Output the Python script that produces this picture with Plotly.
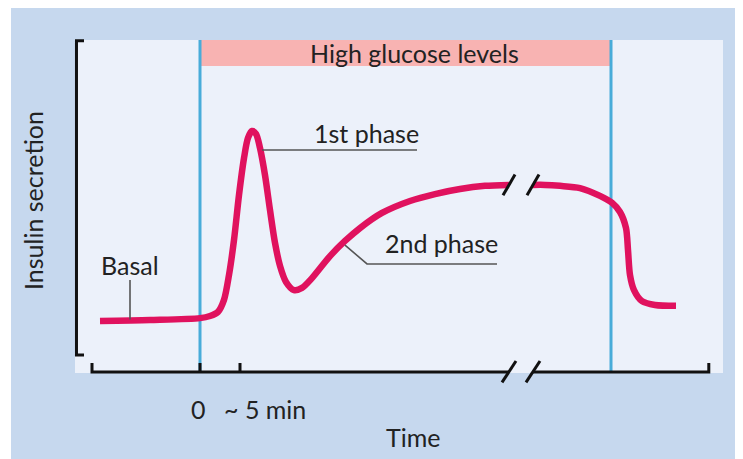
import plotly.graph_objects as go

# ---- Data (schematic: time in minutes from glucose rise, secretion in arbitrary units) ----
time_early = [-12.5, -6.25, 0, 1.25, 2.25, 3.0, 3.625, 4.25, 4.875, 5.5, 6.0, 6.5, 7.0, 7.5,
              8.125, 8.75, 9.375, 10.0, 10.75, 11.75, 12.75, 14.0, 16.25, 18.125, 20.0,
              22.75, 26.25, 29.375, 32.5, 35.625, 38.625]
secretion_early = [10.8, 11.1, 11.7, 12.4, 13.7, 17.5, 25.4, 36.5, 50.8, 62.5, 68.9, 71.1, 70.2, 65.7,
                   57.1, 46.0, 35.6, 28.3, 23.2, 20.6, 21.3, 24.4, 31.4, 36.2, 40.3,
                   45.1, 48.9, 51.1, 52.7, 53.7, 54.0]
time_late = [41.625, 43.125, 45.0, 47.5, 50.0, 51.5, 52.5, 53.25, 53.5, 53.75, 54.25, 55.25, 56.875, 59.5]
secretion_late = [54.0, 54.0, 53.7, 53.0, 50.5, 48.3, 45.4, 40.3, 33.3, 25.4, 20.6, 17.1, 15.9, 15.6]

glucose_on = 0
glucose_off = 51.375
tick_values = [0, 5]
tick_labels = ["0", "~ 5 min"]
break_start, break_end = 38.625, 41.625
time_axis_min, time_axis_max = -13.5, 63.6
secretion_min, secretion_max = 0, 100

# ---- Styles ----
FONT = "Lato, 'Open Sans', sans-serif"
TXT = "#222222"
CURVE = "#e0125e"
BLUE = "#48acd9"
BLACK = "#111111"
GREY = "#555555"

X_RANGE = [-16.25, 66.25]
Y_RANGE = [-11.111, 101.27]
axis_y = -5.4
tick_top = -2.54
bracket_x = -15.44
stub_x = -14.5

fig = go.Figure()

fig.add_trace(go.Scatter(x=time_early, y=secretion_early, mode="lines",
                         line=dict(color=CURVE, width=6.5, shape="spline", smoothing=0.8),
                         hoverinfo="skip", showlegend=False))
fig.add_trace(go.Scatter(x=time_late, y=secretion_late, mode="lines",
                         line=dict(color=CURVE, width=6.5, shape="spline", smoothing=0.8),
                         hoverinfo="skip", showlegend=False))

shapes = []
# light plotting panel
shapes.append(dict(type="rect", xref="x", yref="y", x0=-15.625, x1=65.375, y0=-5.71, y1=secretion_max,
                   fillcolor="#ecf1fa", line=dict(width=0), layer="below"))
# high glucose band
shapes.append(dict(type="rect", xref="x", yref="y", x0=glucose_on, x1=glucose_off, y0=91.75, y1=secretion_max,
                   fillcolor="#f8b3b2", line=dict(width=0), layer="below"))
# blue vertical lines
for xv in (glucose_on, glucose_off):
    shapes.append(dict(type="line", xref="x", yref="y", x0=xv, x1=xv, y0=axis_y, y1=secretion_max,
                       line=dict(color=BLUE, width=3), layer="below"))
# y bracket
shapes.append(dict(type="path", xref="x", yref="y",
                   path=f"M {stub_x},{secretion_max - 0.2} L {bracket_x},{secretion_max - 0.2} "
                        f"L {bracket_x},{secretion_min} L {stub_x},{secretion_min}",
                   line=dict(color=BLACK, width=3)))
# x axis with break
shapes.append(dict(type="path", xref="x", yref="y",
                   path=f"M {time_axis_min},{tick_top} L {time_axis_min},{axis_y} L {break_start},{axis_y}",
                   line=dict(color=BLACK, width=3)))
shapes.append(dict(type="path", xref="x", yref="y",
                   path=f"M {break_end},{axis_y} L {time_axis_max},{axis_y} L {time_axis_max},{tick_top}",
                   line=dict(color=BLACK, width=3)))
for tv in tick_values:
    shapes.append(dict(type="line", xref="x", yref="y", x0=tv, x1=tv, y0=axis_y, y1=tick_top,
                       line=dict(color=BLACK, width=3)))
# break slashes on axis
for xc in (break_start, break_end):
    shapes.append(dict(type="line", xref="x", yref="y", x0=xc - 0.875, x1=xc + 0.875,
                       y0=axis_y - 3.3, y1=axis_y + 3.5, line=dict(color=BLACK, width=3)))
# break slashes on curve
for xc, yc in ((break_start, secretion_early[-1]), (break_end, secretion_late[0])):
    shapes.append(dict(type="line", xref="x", yref="y", x0=xc - 0.75, x1=xc + 0.75,
                       y0=yc - 3.3, y1=yc + 3.3, line=dict(color=BLACK, width=3)))
# leader lines
shapes.append(dict(type="line", xref="x", yref="y", x0=7.75, x1=27.125, y0=65.08, y1=65.08,
                   line=dict(color=GREY, width=1.6)))
shapes.append(dict(type="path", xref="x", yref="y",
                   path="M 18.125,34.9 L 20.875,28.9 L 37.125,28.9",
                   line=dict(color=GREY, width=1.6)))
shapes.append(dict(type="line", xref="x", yref="y", x0=-8.75, x1=-8.75, y0=23.8, y1=11.3,
                   line=dict(color=GREY, width=1.6)))

# thin white strip at the far left (page margin supplies the rest)
shapes.append(dict(type="rect", xref="paper", yref="paper", x0=-0.2, x1=-0.0894, y0=-0.3, y1=1.2,
                   fillcolor="white", line=dict(width=0), layer="above"))

f = dict(family=FONT, size=25, color=TXT)
annotations = [
    dict(text="High glucose levels", x=26.75, y=95.9, xref="x", yref="y", showarrow=False, font=f),
    dict(text="1st phase", x=20.75, y=70.6, xref="x", yref="y", showarrow=False, font=f),
    dict(text="2nd phase", x=30.125, y=35.6, xref="x", yref="y", showarrow=False, font=f),
    dict(text="Basal", x=-8.75, y=28.6, xref="x", yref="y", showarrow=False, font=f),
    dict(text=tick_labels[0], x=tick_values[0] - 0.25, y=-0.0537, xref="x", yref="paper",
         yanchor="middle", xanchor="center", showarrow=False, font=f),
    dict(text=tick_labels[1], x=tick_values[1], xshift=25, y=-0.0537, xref="x", yref="paper",
         yanchor="middle", xanchor="center", showarrow=False, font=f),
    dict(text="Time", x=26.6, y=-0.1328, xref="x", yref="paper", yanchor="middle", xanchor="center",
         showarrow=False, font=f),
    dict(text="Insulin secretion", x=-0.0561, y=49.2, xref="paper", yref="y", textangle=-90,
         xanchor="center", yanchor="middle", showarrow=False, font=f),
]

fig.update_layout(
    width=735, height=451,
    margin=dict(l=62, r=13, t=28, b=69),
    paper_bgcolor="#c6d8ee",
    plot_bgcolor="rgba(0,0,0,0)",
    shapes=shapes,
    annotations=annotations,
    xaxis=dict(range=X_RANGE, visible=False, fixedrange=True),
    yaxis=dict(range=Y_RANGE, visible=False, fixedrange=True),
    showlegend=False,
)

fig.write_html("out.html")
